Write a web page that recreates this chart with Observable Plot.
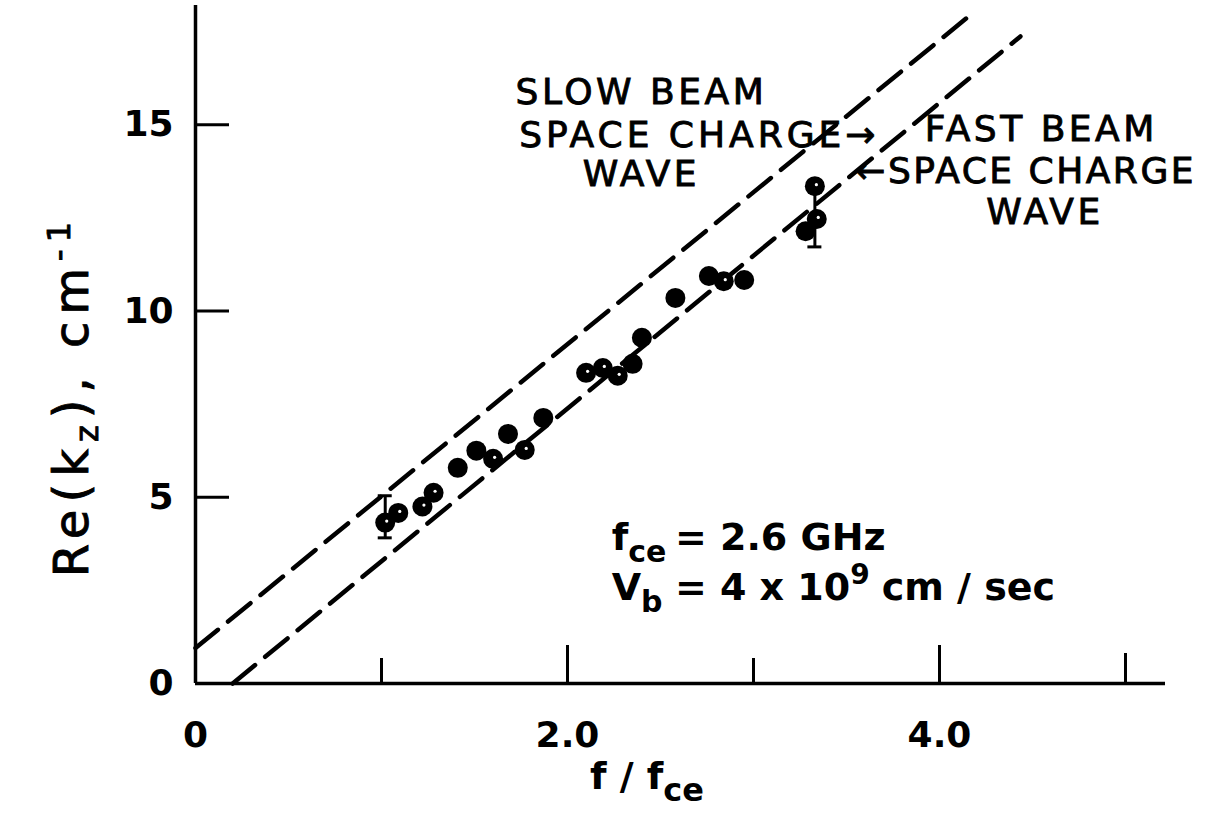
<!DOCTYPE html>
<html><head><meta charset="utf-8">
<script src="https://cdn.jsdelivr.net/npm/d3@7"></script>
<script src="https://cdn.jsdelivr.net/npm/@observablehq/plot@0.6"></script>
<style>
body{margin:0;background:#fff}
svg{font-family:"DejaVu Sans",sans-serif}
</style>
</head><body><div id="chart"></div>
<script>
// measured points: normalized frequency f/fce and Re(kz) in cm^-1
const xFreq = [1.02,1.09,1.22,1.28,1.41,1.51,1.60,1.68,1.77,1.87,2.10,2.19,2.27,2.35,2.40,2.58,2.76,2.84,2.95,3.33,3.34,3.28];
const kz    = [4.32,4.58,4.75,5.12,5.79,6.25,6.03,6.70,6.27,7.13,8.34,8.47,8.26,8.58,9.28,10.35,10.94,10.80,10.83,13.35,12.47,12.14];
const marker = ["open","open","open","open","filled","filled","open","filled","open","filled","open","open","open","filled","filled","filled","filled","open","filled","open","open","filled"];
// error bars
const errX  = [1.02, 3.33];
const errLo = [3.91, 11.72];
const errHi = [5.04, 13.30];
// theory lines (end points)
const slowX = [0, 4.17],  slowY = [0.95, 17.96];
const fastX = [0.2, 4.435], fastY = [0, 17.37];
// ticks
const xTickVals = [1, 2, 3, 4, 5];
const xTickLenPx = [25, 38, 25, 38, 30];
const xLabelVals = [0, 2, 4];
const xLabelText = ["0", "2.0", "4.0"];
const yTickVals = [5, 10, 15];
const yLabelVals = [0, 5, 10, 15];
const xMax = 5.215, yMax = 18.2;

const W = 1213, H = 817, mL = 195, mR = 48, mT = 5, mB = 134;
const yPerPx = yMax / (H - mT - mB);
const xPerPx = xMax / (W - mL - mR);

const points = xFreq.map((x, i) => ({x, y: kz[i], m: marker[i]}));
const errs = errX.map((x, i) => ({x, lo: errLo[i], hi: errHi[i]}));
const slow = slowX.map((x, i) => ({x, y: slowY[i]}));
const fast = fastX.map((x, i) => ({x, y: fastY[i]}));
const xTicks = xTickVals.map((v, i) => ({v, len: xTickLenPx[i] * yPerPx}));
const capHalf = 7 * xPerPx;

const dash = "29,13";
const chart = Plot.plot({
  width: W, height: H,
  marginLeft: mL, marginRight: mR, marginTop: mT, marginBottom: mB,
  x: {domain: [0, xMax]},
  y: {domain: [0, yMax]},
  style: {background: "#fff", color: "#000", fontFamily: "DejaVu Sans, sans-serif"},
  marks: [
    Plot.ruleY([0], {x1: 0, x2: xMax, strokeWidth: 3.5}),
    Plot.ruleX([0], {y1: 0, y2: yMax, strokeWidth: 3.5}),
    Plot.ruleX(xTicks, {x: "v", y1: 0, y2: "len", strokeWidth: 3}),
    Plot.ruleY(yTickVals, {y: d => d, x1: 0, x2: 34 * xPerPx, strokeWidth: 3}),
    Plot.axisX(xLabelVals, {tickSize: 0, tickPadding: 38, fontSize: 36, fontWeight: "bold", tickFormat: (d) => xLabelText[xLabelVals.indexOf(d)], label: null}),
    Plot.axisY(yLabelVals, {tickSize: 0, tickPadding: 22, fontSize: 36, fontWeight: "bold", label: null}),
    Plot.line(slow, {x: "x", y: "y", strokeWidth: 4.5, strokeDasharray: dash}),
    Plot.line(fast, {x: "x", y: "y", strokeWidth: 4.5, strokeDasharray: dash}),
    Plot.ruleX(errs, {x: "x", y1: "lo", y2: "hi", strokeWidth: 3}),
    Plot.ruleY(errs, {y: "lo", x1: d => d.x - capHalf, x2: d => d.x + capHalf, strokeWidth: 3}),
    Plot.ruleY(errs, {y: "hi", x1: d => d.x - capHalf, x2: d => d.x + capHalf, strokeWidth: 3}),
    Plot.dot(points, {x: "x", y: "y", r: 10, fill: "#000"}),
    Plot.dot(points.filter(d => d.m === "open"), {x: "x", y: "y", r: 1.6, dx: 1.5, dy: -1.5, fill: "#fff"})
  ]
});
document.getElementById("chart").appendChild(chart);

const svg = d3.select(chart);
const sx = chart.scale("x"), sy = chart.scale("y");
const g = svg.append("g").attr("fill", "#000").attr("text-anchor", "start");

// annotation labels
const annText = ["SLOW BEAM", "SPACE CHARGE\u2192", "WAVE", "FAST BEAM", "\u2190SPACE CHARGE", "WAVE"];
const annX = [2.40, 3.68, 2.40, 4.55, 3.55, 4.57];
const annY = [15.80, 14.66, 13.62, 14.83, 13.70, 12.60];
const annAnchor = ["middle", "end", "middle", "middle", "start", "middle"];
const annSpacing = [3.5, 4, 3.5, 3.5, 2.5, 3.5];
annText.forEach((t, i) => {
  g.append("text").attr("x", sx.apply(annX[i])).attr("y", sy.apply(annY[i]))
    .attr("text-anchor", annAnchor[i]).attr("font-size", 36).attr("letter-spacing", annSpacing[i])
    .attr("stroke", "#000").attr("stroke-width", 0.9)
    .attr("dominant-baseline", "middle").text(t);
});

// parameter block
const p1 = g.append("text").attr("x", sx.apply(2.24)).attr("y", sy.apply(3.58)).attr("font-size", 38).attr("font-weight", "bold");
p1.append("tspan").text("f");
p1.append("tspan").attr("dy", 12).attr("font-size", 30).text("ce");
g.append("text").attr("x", sx.apply(2.58)).attr("y", sy.apply(3.58)).attr("font-size", 38).attr("font-weight", "bold").text("= 2.6 GHz");

const p2 = g.append("text").attr("x", sx.apply(2.24)).attr("y", sy.apply(2.22)).attr("font-size", 38).attr("font-weight", "bold");
p2.append("tspan").text("V");
p2.append("tspan").attr("dy", 12).attr("font-size", 30).text("b");
const p3 = g.append("text").attr("x", sx.apply(2.58)).attr("y", sy.apply(2.22)).attr("font-size", 38).attr("font-weight", "bold");
p3.append("tspan").text("= 4 x 10");
p3.append("tspan").attr("dy", -16).attr("font-size", 28).text("9");
p3.append("tspan").attr("dy", 16).attr("dx", 12).text("cm / sec");

// axis titles
const xt = g.append("text").attr("x", sx.apply(2.43)).attr("y", H - 28).attr("text-anchor", "middle").attr("font-size", 38).attr("font-weight", "bold");
xt.append("tspan").text("f / f");
xt.append("tspan").attr("dy", 12).attr("font-size", 32).text("ce");

const yt = g.append("text").attr("transform", `translate(88,${sy.apply(7.7)}) rotate(-90)`).attr("text-anchor", "middle")
  .attr("font-size", 48).attr("letter-spacing", 7).attr("stroke", "#000").attr("stroke-width", 0.9);
yt.append("tspan").text("Re(k");
yt.append("tspan").attr("dy", 10).attr("font-size", 32).text("z");
yt.append("tspan").attr("dy", -10).text("), cm");
yt.append("tspan").attr("dy", -18).attr("font-size", 32).text("-1");
</script>
</body></html>
